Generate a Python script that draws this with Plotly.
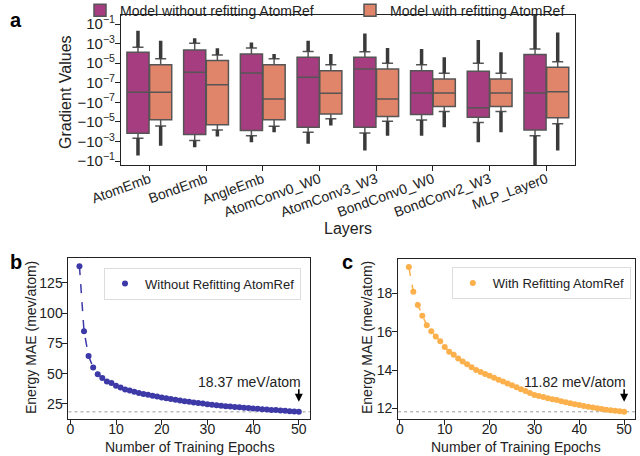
import numpy as np
import plotly.graph_objects as go

# ---- panel a: gradient distributions per layer (box stats, symlog axis) ----
layers = ["AtomEmb", "BondEmb", "AngleEmb", "AtomConv0_W0", "AtomConv3_W3",
          "BondConv0_W0", "BondConv2_W3", "MLP_Layer0"]

# model without refitting AtomRef
wo_q1 = [-1.4e-4, -1.9e-4, -7.6e-5, -3.5e-5, -3.5e-5, -1.7e-6, -3.3e-6, -6.5e-5]
wo_med = [3e-9, 1.2e-6, 1.0e-6, 3.6e-7, 2.6e-6, -3e-9, -3.6e-7, -3e-9]
wo_q3 = [1.3e-4, 2.3e-4, 8.9e-5, 4.0e-5, 4.0e-5, 1.7e-6, 1.5e-6, 7.6e-5]
wo_lo = [-4.6e-4, -7.9e-4, -2.5e-4, -1.1e-4, -1.3e-4, -6.2e-6, -1.1e-5, -2.5e-4]
wo_hi = [4.2e-4, 1.1e-3, 3.6e-4, 1.6e-4, 1.5e-4, 7.2e-6, 9.8e-6, 2.9e-4]
wo_min = [-2.7e-2, -3.8e-3, -1.2e-3, -1.7e-3, -8.3e-3, -2.5e-4, -1.2e-3, -1.5]
wo_max = [2.1e-2, 3.5e-3, 1.3e-3, 2.0e-3, 1.1e-2, 2.9e-4, 2.4e-3, 1.5]

# model with refitting AtomRef
w_q1 = [-5.8e-6, -1.9e-5, -5.8e-6, -1.5e-6, -2.8e-6, -2.7e-7, -2.7e-7, -3.8e-6]
w_med = [3e-9, 8e-8, -6.4e-8, -7e-9, -6.4e-8, -3e-9, -3e-9, 1e-8]
w_q3 = [6.8e-6, 1.9e-5, 7.2e-6, 1.7e-6, 2.6e-6, 2.5e-7, 2.5e-7, 3.8e-6]
w_lo = [-2.5e-5, -6.5e-5, -2.8e-5, -4.8e-6, -8.5e-6, -8.7e-7, -8.7e-7, -1.5e-5]
w_hi = [2.8e-5, 7.1e-5, 2.8e-5, 6.8e-6, 9.8e-6, 9.3e-7, 9.3e-7, 1.4e-5]
w_min = [-2.6e-3, -3.1e-4, -1.1e-4, -2.3e-5, -2.5e-4, -3.5e-5, -1.1e-4, -8.3e-3]
w_max = [2.0e-3, 3.3e-4, 8.9e-5, 8.9e-5, 3.6e-4, 4.0e-5, 1.3e-4, 1.4e-2]

grad_ticks = [1e-1, 1e-3, 1e-5, 1e-7, -1e-7, -1e-5, -1e-3, -1e-1]
grad_ticktext = ["10<sup>−1</sup>", "10<sup>−3</sup>", "10<sup>−5</sup>", "10<sup>−7</sup>",
                 "−10<sup>−7</sup>", "−10<sup>−5</sup>", "−10<sup>−3</sup>", "−10<sup>−1</sup>"]

# ---- panels b, c: energy MAE vs epoch ----
epochs = list(range(2, 51))
mae_without = [138.8, 85, 64.5, 55, 49.5, 46.3, 43.5, 42.3, 40, 38.5, 36.8, 36, 35, 34,
               33.2, 32.5, 31.7, 31, 30.3, 29.6, 29, 28.4, 27.8, 27.2, 26.7, 26.2, 25.7,
               25.2, 24.7, 24.3, 23.9, 23.5, 23.1, 22.8, 22.4, 22.1, 21.8, 21.5, 21.2,
               20.9, 20.6, 20.3, 20.0, 19.8, 19.5, 19.2, 18.9, 18.6, 18.37]
mae_with = [19.38, 18.09, 17.4, 16.83, 16.34, 16.03, 15.75, 15.5, 15.2, 14.95, 14.8, 14.6,
            14.45, 14.3, 14.15, 14.0, 13.9, 13.8, 13.7, 13.6, 13.5, 13.4, 13.3, 13.2, 13.1,
            13.0, 12.9, 12.8, 12.7, 12.64, 12.59, 12.53, 12.48, 12.43, 12.37, 12.32,
            12.27, 12.22, 12.17, 12.12, 12.08, 12.04, 12.0, 11.96, 11.93, 11.9, 11.87,
            11.85, 11.82]
final_without = 18.37
final_with = 11.82

PURPLE = "#a63d80"
ORANGE = "#e0856a"
BLUE = "#3d3aa8"
YELLOW = "#fbb04c"
EDGE = "#555555"
FONT = "Liberation Sans, Arial, sans-serif"
INK = "#222222"

LINTHRESH = 1e-7


def symlog(v):
    v = np.asarray(v, dtype=float)
    a = np.abs(v)
    out = np.where(a <= LINTHRESH, v / LINTHRESH,
                   np.sign(v) * (1 + np.log10(np.maximum(a, LINTHRESH) / LINTHRESH)))
    return out


fig = go.Figure()

pos = np.arange(len(layers))
groups = [
    ("Model without refitting AtomRef", PURPLE, -0.2, wo_q1, wo_med, wo_q3, wo_lo, wo_hi, wo_min, wo_max),
    ("Model with refitting AtomRef", ORANGE, 0.2, w_q1, w_med, w_q3, w_lo, w_hi, w_min, w_max),
]
for name, col, off, q1, med, q3, lo, hi, mn, mx in groups:
    xs = pos + off
    # outlier streaks from fence to extreme
    sx, sy = [], []
    for x, l, h, a, b in zip(xs, symlog(lo), symlog(hi), symlog(mn), symlog(mx)):
        sx += [x, x, None, x, x, None]
        sy += [h, b, None, l, a, None]
    fig.add_trace(go.Scatter(x=sx, y=sy, mode="lines", line=dict(color="#3a3a3a", width=3.5),
                             showlegend=False, hoverinfo="skip", xaxis="x", yaxis="y"))
    fig.add_trace(go.Box(
        name=name, x=xs, q1=symlog(q1), median=symlog(med), q3=symlog(q3),
        lowerfence=symlog(lo), upperfence=symlog(hi), width=0.39,
        fillcolor=col, line=dict(color=EDGE, width=1.5), whiskerwidth=0.5,
        boxpoints=False, legend="legend", xaxis="x", yaxis="y",
    ))

# panel b
fig.add_trace(go.Scatter(x=epochs, y=mae_without, mode="lines", line=dict(color=BLUE, width=1.5, dash="dash"),
                         showlegend=False, xaxis="x2", yaxis="y2"))
fig.add_trace(go.Scatter(x=epochs, y=mae_without, mode="markers", marker=dict(color=BLUE, size=6),
                         name="Without Refitting AtomRef", legend="legend2", xaxis="x2", yaxis="y2"))
# panel c
fig.add_trace(go.Scatter(x=epochs, y=mae_with, mode="lines", line=dict(color=YELLOW, width=1.5, dash="dash"),
                         showlegend=False, xaxis="x3", yaxis="y3"))
fig.add_trace(go.Scatter(x=epochs, y=mae_with, mode="markers", marker=dict(color=YELLOW, size=6),
                         name="With Refitting AtomRef", legend="legend3", xaxis="x3", yaxis="y3"))

axis_common = dict(showline=True, linecolor=INK, linewidth=1, mirror=True, ticks="outside",
                   ticklen=5, tickcolor=INK, showgrid=False, zeroline=False, automargin=False,
                   tickfont=dict(size=14, color=INK))

fig.update_layout(
    width=640, height=456, margin=dict(l=0, r=0, t=0, b=0, autoexpand=False),
    plot_bgcolor="white", paper_bgcolor="white",
    font=dict(family=FONT, color=INK, size=14),
    xaxis=dict(axis_common, domain=[0.189, 0.898], anchor="y", range=[-0.5, 7.5],
               tickvals=list(pos), ticktext=layers, tickangle=-20, ticklabelstandoff=-5),
    yaxis=dict(axis_common, domain=[0.638, 0.967], anchor="x", range=[-7.4, 7.92],
               tickvals=list(symlog(grad_ticks)), ticktext=grad_ticktext, tickfont=dict(size=15),
               ticklabelstandoff=-3),
    xaxis2=dict(axis_common, domain=[0.107, 0.484], anchor="y2", range=[-0.4, 52.4],
                tickvals=[0, 10, 20, 30, 40, 50], ticklabelstandoff=-8),
    yaxis2=dict(axis_common, domain=[0.081, 0.434], anchor="x2", range=[12.4, 145.5],
                tickvals=[25, 50, 75, 100, 125], ticklabelstandoff=-3),
    xaxis3=dict(axis_common, domain=[0.622, 0.992], anchor="y3", range=[-0.4, 52.4],
                tickvals=[0, 10, 20, 30, 40, 50], ticklabelstandoff=-8),
    yaxis3=dict(axis_common, domain=[0.081, 0.432], anchor="x3", range=[11.44, 19.8],
                tickvals=[12, 14, 16, 18], ticklabelstandoff=-3),
    legend=dict(orientation="h", x=0.125, xanchor="left", y=1.012, yanchor="top",
                font=dict(size=14), bgcolor="rgba(0,0,0,0)", itemwidth=30, entrywidth=225),
    legend2=dict(x=0.1625, xanchor="left", y=0.413, yanchor="top", font=dict(size=13),
                 bordercolor="#dddddd", borderwidth=1, bgcolor="white"),
    legend3=dict(x=0.706, xanchor="left", y=0.4145, yanchor="top", font=dict(size=13),
                 bordercolor="#dddddd", borderwidth=1, bgcolor="white"),
)

# axis titles, placed in paper pixels
H, W = 456.0, 640.0
titles = [
    ("Layers", 348, 229, 0, 16),
    ("Gradient Values", 66, 92, -90, 16),
    ("Number of Training Epochs", 190, 447, 0, 14),
    ("Energy MAE (mev/atom)", 31, 338, -90, 14),
    ("Number of Training Epochs", 516, 447, 0, 14),
    ("Energy MAE (mev/atom)", 367, 338, -90, 14),
]
for text, px, py, ang, size in titles:
    fig.add_annotation(x=px / W, y=1 - py / H, xref="paper", yref="paper", text=text, showarrow=False,
                       textangle=ang, xanchor="center", yanchor="middle", font=dict(size=size, color=INK))

for xr, yr, val in [("x2", "y2", final_without), ("x3", "y3", final_with)]:
    fig.add_shape(type="line", xref=f"{xr} domain", yref=yr, x0=0, x1=1, y0=val, y1=val,
                  line=dict(color="#999999", width=1, dash="dot"), layer="below")
    fig.add_annotation(x=50, y=val, xref=xr, yref=yr, text=f"{val:.2f} meV/atom", showarrow=False,
                       xanchor="right", yanchor="middle", xshift=4, yshift=30, font=dict(size=14, color=INK))
    fig.add_annotation(x=50, y=val, xref=xr, yref=yr, text="", showarrow=True, ax=0, ay=-14,
                       arrowhead=2, arrowsize=1, arrowwidth=1.6, arrowcolor="black", yshift=10)

for lbl, px, py in [("a", 8, 20), ("b", 8, 262), ("c", 340, 262)]:
    fig.add_annotation(x=px / W, y=1 - py / H, xref="paper", yref="paper", text=f"<b>{lbl}</b>",
                       showarrow=False, xanchor="left", yanchor="middle", font=dict(size=20, color="black"))

# the page body has a default 8px margin; remove it so the figure sits at the window origin
fig.write_html("out.html", config={"displayModeBar": False},
               post_script="document.body.style.margin='0';")
